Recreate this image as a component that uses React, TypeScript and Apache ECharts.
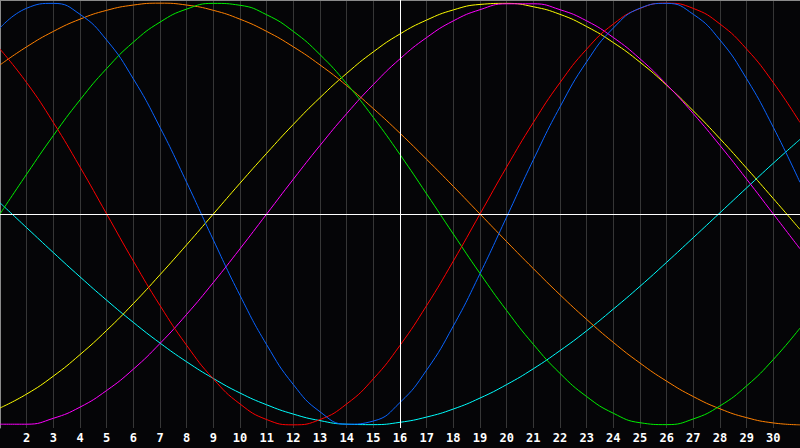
import React, { useEffect, useRef } from 'react';
import * as echarts from 'echarts';

// days shown on the x axis (1 .. 31, labels 2 .. 30)
const days = Array.from({ length: 31 }, (_, i) => i + 1);
const markedDay = 16;

// cycle values (%), one per day
const physical = [88.2, 97.6, 99.9, 94.7, 82.5, 64.1, 41.1, 15.0, -12.3, -38.6, -62.0, -80.9, -93.8, -99.7, -98.2, -89.4, -74.0, -53.1, -28.3, -1.4, 25.7, 50.8, 72.2, 88.2, 97.6, 99.9, 94.7, 82.5, 64.1, 41.1, 15.0];
const emotional = [78.2, 62.3, 43.4, 22.3, 0, -22.3, -43.4, -62.3, -78.2, -90.1, -97.5, -100, -97.5, -90.1, -78.2, -62.3, -43.4, -22.3, 0, 22.3, 43.4, 62.3, 78.2, 90.1, 97.5, 100, 97.5, 90.1, 78.2, 62.3, 43.4];
const intellectual = [0, 18.9, 37.2, 54.1, 69.0, 81.5, 91.0, 97.2, 99.9, 99.0, 94.5, 86.6, 75.6, 61.8, 45.8, 28.2, 9.5, -9.5, -28.2, -45.8, -61.8, -75.6, -86.6, -94.5, -99.0, -99.9, -97.2, -91.0, -81.5, -69.0, -54.1];
const awareness = [70.7, 79.3, 86.6, 92.4, 96.6, 99.1, 100, 99.1, 96.6, 92.4, 86.6, 79.3, 70.7, 60.9, 50.0, 38.3, 25.9, 13.1, 0, -13.1, -25.9, -38.3, -50.0, -60.9, -70.7, -79.3, -86.6, -92.4, -96.6, -99.1, -100];
const aesthetic = [-92.0, -85.4, -76.9, -66.7, -55.2, -42.5, -28.8, -14.6, 0, 14.6, 28.8, 42.5, 55.2, 66.7, 76.9, 85.4, 92.0, 96.8, 99.4, 99.9, 98.3, 94.7, 88.9, 81.3, 72.0, 61.1, 48.9, 35.7, 21.7, 7.3, -7.3];
const intuitive = [-99.7, -99.7, -96.9, -91.6, -83.7, -73.6, -61.4, -47.6, -32.5, -16.5, 0, 16.5, 32.5, 47.6, 61.4, 73.6, 83.7, 91.6, 96.9, 99.7, 99.7, 96.9, 91.6, 83.7, 73.6, 61.4, 47.6, 32.5, 16.5, 0, -16.5];
const spiritual = [5.3, -6.5, -18.3, -29.8, -40.9, -51.4, -61.2, -70.1, -78.0, -84.9, -90.5, -94.9, -98.0, -99.7, -99.9, -98.8, -96.3, -92.5, -87.3, -80.9, -73.4, -64.8, -55.4, -45.1, -34.3, -22.9, -11.2, 0.6, 12.4, 24.1, 35.4];

const cycles = [
  { name: 'spiritual', values: spiritual, color: '#00ffff' },
  { name: 'aesthetic', values: aesthetic, color: '#ffff00' },
  { name: 'intuitive', values: intuitive, color: '#ff00ff' },
  { name: 'awareness', values: awareness, color: '#ff8000' },
  { name: 'intellectual', values: intellectual, color: '#00ee00' },
  { name: 'emotional', values: emotional, color: '#ff0000' },
  { name: 'physical', values: physical, color: '#0a64ff' },
];

const App: React.FC = () => {
  const chartRef = useRef<HTMLDivElement>(null);

  useEffect(() => {
    if (!chartRef.current) return;
    const chart = echarts.init(chartRef.current, undefined, { renderer: 'svg' });

    const series: any[] = cycles.map((c) => ({
      name: c.name,
      type: 'line',
      data: c.values.map((v, i) => [days[i], v]),
      smooth: true,
      showSymbol: false,
      silent: true,
      lineStyle: { color: c.color, width: 1 },
    }));

    // white cross: today + zero line
    series.push({
      type: 'line',
      data: [],
      silent: true,
      markLine: {
        silent: true,
        symbol: 'none',
        label: { show: false },
        lineStyle: { color: '#ffffff', width: 1, type: 'solid' },
        data: [{ xAxis: markedDay }, { yAxis: 0 }],
      },
    });

    chart.setOption({
      animation: false,
      backgroundColor: '#050507',
      grid: { left: 0, right: 0, top: 0, bottom: 20 },
      xAxis: [
        {
          type: 'value',
          min: 1,
          max: 31,
          interval: 1,
          axisLine: { show: true, lineStyle: { color: '#8a8a8a', width: 1 } },
          axisTick: { show: false },
          axisLabel: {
            showMinLabel: false,
            showMaxLabel: false,
            color: '#ffffff',
            fontFamily: 'DejaVu Sans Mono',
            fontWeight: 'bold',
            fontSize: 12,
            margin: 4,
          },
          splitLine: { show: true, lineStyle: { color: '#363636', width: 1 } },
        },
        {
          type: 'value',
          position: 'top',
          min: 1,
          max: 31,
          axisLine: { show: true, lineStyle: { color: '#8a8a8a', width: 1 } },
          axisTick: { show: false },
          axisLabel: { show: false },
          splitLine: { show: false },
        },
      ],
      yAxis: {
        type: 'value',
        min: -101.5,
        max: 101.5,
        axisLine: { show: true, lineStyle: { color: '#8a8a8a', width: 1 } },
        axisTick: { show: false },
        axisLabel: { show: false },
        splitLine: { show: false },
      },
      series,
    });

    return () => {
      chart.dispose();
    };
  }, []);

  return (
    <div
      ref={chartRef}
      style={{ position: 'fixed', left: 0, top: 0, width: 800, height: 448, background: '#050507' }}
    />
  );
};

export default App;
